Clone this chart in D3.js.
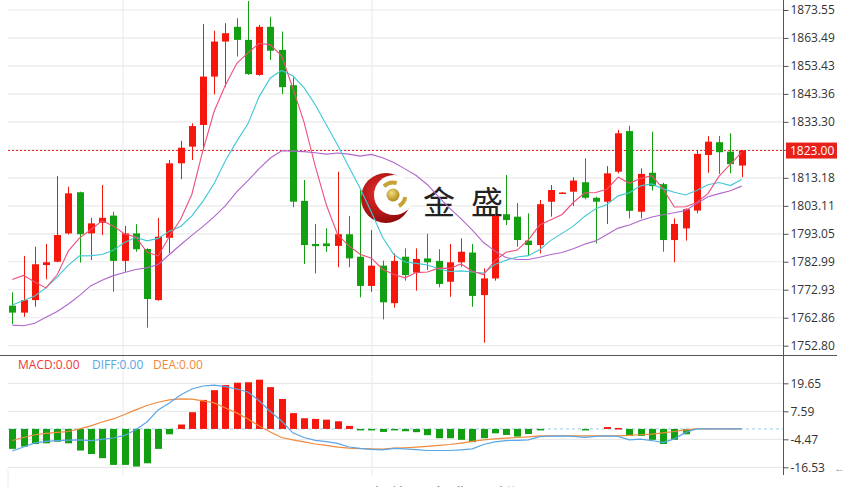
<!DOCTYPE html>
<html><head><meta charset="utf-8">
<script src="https://cdn.jsdelivr.net/npm/d3@7"></script>
<style>body{margin:0;background:#fff;overflow:hidden}svg{display:block}</style>
</head><body>
<script>
// ---------- DATA ----------
const opens  = [1767.2,1764.7,1769.2,1781.8,1783.0,1793.2,1808.0,1793.2,1797.0,1799.6,1783.3,1793.2,1787.6,1769.2,1791.6,1818.4,1824.4,1832.2,1849.6,1862.2,1867.5,1862.8,1850.2,1867.5,1859.2,1846.5,1804.9,1789.4,1789.6,1788.7,1792.9,1784.8,1774.3,1781.6,1768.1,1784.8,1779.1,1784.2,1783.3,1775.8,1782.8,1786.3,1771.0,1777.0,1800.1,1799.2,1790.6,1789.0,1804.6,1807.8,1808.2,1811.6,1806.0,1804.6,1815.4,1830.0,1801.0,1815.0,1810.9,1790.8,1795.0,1801.4,1821.4,1826.0,1822.6,1817.6];
const closes = [1764.7,1769.2,1782.1,1782.8,1792.6,1807.6,1792.9,1796.8,1798.8,1783.3,1793.2,1787.5,1769.6,1792.0,1818.4,1824.0,1831.8,1849.6,1862.2,1865.2,1862.8,1850.5,1867.5,1858.9,1845.8,1804.6,1789.0,1788.6,1788.6,1792.9,1784.2,1774.3,1781.6,1768.4,1783.3,1778.2,1784.0,1782.8,1775.0,1782.8,1786.6,1770.7,1777.0,1799.5,1798.0,1790.8,1789.0,1803.7,1808.8,1807.9,1812.2,1806.0,1804.6,1814.8,1829.2,1801.3,1814.6,1810.2,1790.8,1796.6,1801.9,1821.8,1826.2,1822.4,1818.1,1823.0];
const highs  = [1772.0,1785.1,1788.4,1789.4,1813.8,1810.0,1808.2,1798.8,1810.6,1801.0,1795.9,1796.5,1787.8,1798.8,1819.6,1826.5,1832.8,1868.5,1866.1,1868.8,1870.6,1876.8,1868.2,1871.1,1865.8,1849.3,1812.4,1796.6,1795.0,1815.4,1799.5,1808.8,1794.4,1783.4,1786.0,1787.8,1787.8,1793.0,1787.5,1789.4,1791.4,1789.4,1780.6,1800.4,1814.2,1804.1,1800.4,1805.2,1810.6,1808.0,1813.4,1820.2,1806.4,1817.4,1830.4,1831.9,1816.6,1829.8,1811.4,1798.6,1802.2,1823.2,1828.2,1828.2,1829.2,1823.2];
const lows   = [1760.6,1763.2,1766.8,1776.7,1782.8,1792.8,1782.7,1783.6,1792.6,1772.2,1779.4,1786.6,1759.3,1769.0,1786.0,1812.7,1819.6,1823.2,1843.2,1845.8,1856.8,1850.2,1849.9,1855.6,1843.3,1802.6,1782.2,1778.8,1786.6,1781.0,1781.0,1770.2,1772.2,1762.3,1766.5,1776.2,1772.6,1780.0,1773.8,1770.4,1781.2,1766.8,1753.9,1776.2,1796.2,1788.4,1785.4,1786.0,1799.2,1807.6,1803.1,1805.5,1789.6,1796.6,1814.8,1798.6,1798.6,1808.6,1786.6,1782.8,1790.6,1800.4,1815.0,1814.6,1814.8,1813.4];

const ma5  = [1776.6,1778.1,1775.7,1773.6,1778.3,1786.9,1791.6,1794.5,1797.7,1795.9,1793.0,1791.9,1786.5,1785.1,1792.1,1798.3,1807.2,1823.2,1837.2,1846.6,1854.3,1858.1,1861.6,1861.0,1857.1,1845.5,1833.2,1817.4,1803.3,1792.7,1788.7,1785.7,1784.3,1780.3,1778.4,1777.2,1779.1,1779.3,1780.7,1780.6,1782.2,1779.6,1778.4,1783.3,1786.4,1787.2,1790.9,1796.2,1798.1,1800.0,1804.3,1807.7,1807.9,1809.1,1813.4,1811.2,1812.9,1814.0,1809.2,1802.7,1802.8,1804.3,1807.5,1813.8,1818.1,1822.3];
const ma10 = [1767.4,1769.1,1770.7,1773.6,1777.5,1781.8,1785.1,1785.2,1785.6,1787.1,1789.9,1791.8,1790.5,1791.4,1794.0,1795.7,1799.5,1804.8,1811.2,1819.4,1826.3,1832.6,1842.4,1849.1,1851.8,1849.9,1845.6,1839.5,1832.2,1824.9,1817.1,1809.4,1800.9,1791.8,1785.6,1782.9,1782.4,1781.8,1780.5,1779.5,1779.7,1779.3,1778.9,1782.0,1783.5,1784.7,1785.2,1787.3,1790.7,1793.2,1795.8,1799.3,1802.1,1803.6,1806.7,1807.8,1810.3,1811.0,1809.2,1808.0,1807.0,1808.6,1810.7,1811.5,1810.4,1812.6];
const ma20 = [1760.2,1760.0,1760.9,1763.0,1765.1,1767.8,1770.9,1774.4,1776.3,1778.0,1779.1,1780.2,1780.8,1782.0,1785.6,1789.1,1792.5,1795.7,1799.2,1803.2,1808.1,1812.2,1816.5,1820.3,1822.9,1822.8,1822.6,1822.2,1821.7,1822.1,1821.7,1821.0,1821.6,1820.4,1818.7,1816.4,1814.0,1810.7,1806.3,1802.2,1798.4,1794.4,1789.9,1786.9,1784.5,1783.8,1783.8,1784.6,1785.6,1786.3,1787.7,1789.3,1790.5,1792.8,1795.1,1796.2,1797.8,1799.1,1799.9,1800.6,1801.4,1803.9,1806.4,1807.5,1808.5,1810.2];

const macdHist = [-8.6,-7.6,-6.5,-6.2,-5.5,-6.2,-9.3,-10.8,-12.6,-15.5,-15.5,-16.2,-14.8,-8.6,-2.3,1.9,7.2,12.5,16.7,18.9,19.9,20.1,21.2,18.0,12.9,6.8,4.6,4.3,4.0,3.3,1.3,-0.5,-0.5,-1.3,-0.6,-1.0,-1.4,-2.7,-4.0,-4.0,-4.7,-5.7,-4.0,-1.9,-2.6,-3.3,-2.2,-0.6,0,0,0,-0.6,0,0.8,0.4,-3.0,-3.0,-4.7,-6.5,-4.7,-2.3,0,0,0,0,0];
const diff = [-9.5,-7.8,-6.0,-5.4,-5.0,-4.8,-4.7,-5.0,-4.5,-3.9,-2.8,-0.4,3.0,8.2,11.2,14.6,17.2,18.5,18.9,18.2,17.2,15.9,12.1,7.5,3.4,-1.7,-3.7,-4.9,-5.5,-6.2,-7.8,-8.4,-8.8,-9.0,-8.4,-8.6,-8.9,-9.3,-9.3,-9.3,-9.0,-8.6,-6.7,-5.6,-5.0,-4.9,-4.7,-3.3,-3.1,-3.0,-3.2,-3.6,-3.2,-3.0,-3.2,-4.7,-4.4,-5.0,-5.9,-4.3,-1.5,0,0,0,0,0];
const dea  = [-5.0,-3.7,-2.5,-1.9,-1.5,-1.1,0,1.3,3.0,4.3,6.2,8.2,10.1,11.5,12.5,12.9,12.8,12.1,11.2,9.0,6.9,4.3,1.3,-1.3,-3.7,-4.7,-5.6,-6.5,-7.1,-7.8,-8.3,-8.5,-8.6,-8.7,-8.3,-8.1,-7.8,-7.5,-7.1,-6.7,-6.1,-5.4,-4.7,-4.3,-4.0,-3.7,-3.4,-3.0,-3.0,-3.0,-3.0,-3.0,-3.0,-3.0,-3.0,-2.8,-2.5,-2.2,-1.7,-1.1,-0.4,0,0,0,0,0];

const priceTicks = ["1873.55","1863.49","1853.43","1843.36","1833.30","1823.24","1813.18","1803.11","1793.05","1782.99","1772.93","1762.86","1752.80"];
const macdTicks  = ["19.65","7.59","-4.47","-16.53"];
const lastPrice = 1823.00;
const legendItems = [["MACD:0.00","#ee3b3b"],["DIFF:0.00","#5aa6e6"],["DEA:0.00","#f08a3c"]];

// ---------- LAYOUT ----------
const W = 845, H = 487;
const plotL = 8, axisX = 783;
const RED = "#f5170b", GREEN = "#12a012";
const FONT = "'Open Sans','Noto Sans',sans-serif";

const svg = d3.select("body").append("svg").attr("width", W).attr("height", H);

const x = d3.scaleLinear().domain([0, closes.length - 1]).range([12.3, 741.6]);
const y = d3.scaleLinear().domain([1752.80, 1873.55]).range([345.7, 10]);
const my = d3.scaleLinear().domain([-16.53, 19.65]).range([467.3, 383.3]);

// grid
const grid = svg.append("g");
grid.selectAll(".hg").data(priceTicks).join("line")
  .attr("x1", plotL).attr("x2", axisX)
  .attr("y1", d => y(+d)).attr("y2", d => y(+d))
  .attr("stroke", "#e9e9e9").attr("stroke-width", 1.2);
grid.selectAll(".mg").data(macdTicks).join("line")
  .attr("x1", plotL).attr("x2", axisX)
  .attr("y1", d => my(+d)).attr("y2", d => my(+d))
  .attr("stroke", "#e9e9e9").attr("stroke-width", 1.2);
[123, 372].forEach(vx => grid.append("line").attr("x1", vx).attr("x2", vx)
  .attr("y1", 0).attr("y2", 475).attr("stroke", "#e3eaee").attr("stroke-width", 1));
grid.append("line").attr("x1", plotL).attr("x2", plotL).attr("y1", 470).attr("y2", 487)
  .attr("stroke", "#e3eaee");

// watermark logo
const logo = svg.append("g");
const defs = svg.append("defs");
const rg = defs.append("radialGradient").attr("id", "rg").attr("cx", "40%").attr("cy", "40%").attr("r", "65%");
rg.append("stop").attr("offset", "0%").attr("stop-color", "#f03030");
rg.append("stop").attr("offset", "100%").attr("stop-color", "#8e0808");
const gg = defs.append("radialGradient").attr("id", "gg").attr("cx", "40%").attr("cy", "35%").attr("r", "70%");
gg.append("stop").attr("offset", "0%").attr("stop-color", "#f2dc7a");
gg.append("stop").attr("offset", "100%").attr("stop-color", "#a88418");
logo.append("circle").attr("cx", 386).attr("cy", 198).attr("r", 25).attr("fill", "url(#rg)");
logo.append("circle").attr("cx", 394).attr("cy", 195).attr("r", 20).attr("fill", "#fff");
const arc = d3.arc().innerRadius(10.5).outerRadius(14.5);
logo.append("path").attr("transform", "translate(393,195)")
  .attr("d", arc({startAngle: -0.8, endAngle: 0.3})).attr("fill", "#c9a235");
logo.append("path").attr("transform", "translate(393,195)")
  .attr("d", arc({startAngle: 1.75, endAngle: 2.65})).attr("fill", "#c9a235");
logo.append("circle").attr("cx", 393).attr("cy", 195).attr("r", 6.5).attr("fill", "url(#gg)");
logo.append("text").attr("x", 423).attr("y", 214).text("金")
  .attr("font-family", "'Noto Sans CJK SC'").attr("font-size", 32).attr("fill", "#222");
logo.append("text").attr("x", 471).attr("y", 214).text("盛")
  .attr("font-family", "'Noto Sans CJK SC'").attr("font-size", 32).attr("fill", "#222");

// last price dashed line
svg.append("line").attr("x1", plotL).attr("x2", axisX)
  .attr("y1", y(lastPrice)).attr("y2", y(lastPrice))
  .attr("stroke", "#e8242a").attr("stroke-width", 1).attr("stroke-dasharray", "2,2");

// candles
const idx = d3.range(closes.length);
const cg = svg.append("g");
const col = i => closes[i] >= opens[i] ? RED : GREEN;
cg.selectAll(".wick").data(idx).join("line")
  .attr("x1", i => Math.round(x(i)) + 0.5).attr("x2", i => Math.round(x(i)) + 0.5)
  .attr("y1", i => y(highs[i])).attr("y2", i => y(lows[i]))
  .attr("stroke", col).attr("stroke-width", 1);
cg.selectAll(".body").data(idx).join("rect")
  .attr("x", i => Math.round(x(i)) - 3).attr("width", 7)
  .attr("y", i => y(Math.max(opens[i], closes[i])))
  .attr("height", i => Math.max(1.5, Math.abs(y(opens[i]) - y(closes[i]))))
  .attr("fill", col);

// MA lines
const line = d3.line().x((d, i) => x(i)).y(d => y(d));
[[ma20, "#b066cc"], [ma10, "#3fc7d6"], [ma5, "#ee4f7a"]].forEach(([arr, c]) =>
  svg.append("path").attr("d", line(arr)).attr("fill", "none").attr("stroke", c).attr("stroke-width", 1.1));

// MACD zero line
svg.append("line").attr("x1", plotL).attr("x2", axisX).attr("y1", my(0)).attr("y2", my(0))
  .attr("stroke", "#9fcbe6").attr("stroke-width", 1).attr("stroke-dasharray", "3,3");

// MACD bars
svg.append("g").selectAll("rect").data(idx.filter(i => macdHist[i] !== 0)).join("rect")
  .attr("x", i => Math.round(x(i)) - 3).attr("width", 7)
  .attr("y", i => Math.min(my(0), my(macdHist[i])))
  .attr("height", i => Math.max(1.5, Math.abs(my(macdHist[i]) - my(0))))
  .attr("fill", i => macdHist[i] > 0 ? RED : GREEN);

const mline = d3.line().x((d, i) => x(i)).y(d => my(d));
svg.append("path").attr("d", mline(dea)).attr("fill", "none").attr("stroke", "#f08a3c").attr("stroke-width", 1.2);
svg.append("path").attr("d", mline(diff)).attr("fill", "none").attr("stroke", "#5aa6e6").attr("stroke-width", 1.2);

// legend
let lx = [18, 92, 153];
legendItems.forEach(([t, c], k) => svg.append("text").attr("x", lx[k]).attr("y", 369)
  .text(t).attr("fill", c).attr("font-family", FONT).attr("font-size", 12));

// separators and axis line
svg.append("line").attr("x1", 0).attr("x2", 837).attr("y1", 355.5).attr("y2", 355.5)
  .attr("stroke", "#555").attr("stroke-width", 1);
svg.append("line").attr("x1", axisX + 0.5).attr("x2", axisX + 0.5).attr("y1", 0).attr("y2", 475)
  .attr("stroke", "#555").attr("stroke-width", 1);

// price axis
const pa = svg.append("g").attr("transform", `translate(${axisX + 0.5},0)`)
  .call(d3.axisRight(y).tickValues(priceTicks.map(Number)).tickSize(5).tickPadding(2)
    .tickFormat((d, i) => priceTicks[i]));
pa.select(".domain").remove();
pa.selectAll("line").attr("stroke", "#555");
pa.selectAll("text").attr("font-family", FONT).attr("font-size", 12).attr("fill", "#333")
  .style("display", d => Math.abs(y(d) - y(lastPrice)) < 8 ? "none" : null);

// macd axis
const ma = svg.append("g").attr("transform", `translate(${axisX + 0.5},0)`)
  .call(d3.axisRight(my).tickValues(macdTicks.map(Number)).tickSize(5).tickPadding(2)
    .tickFormat((d, i) => macdTicks[i]));
ma.select(".domain").remove();
ma.selectAll("line").attr("stroke", "#555");
ma.selectAll("text").attr("font-family", FONT).attr("font-size", 12).attr("fill", "#333");

// last price tag
svg.append("rect").attr("x", 786).attr("y", y(lastPrice) - 8).attr("width", 51).attr("height", 16).attr("fill", "#e8201a");
svg.append("text").attr("x", 790).attr("y", y(lastPrice) + 4.5).text(lastPrice.toFixed(2))
  .attr("fill", "#fff").attr("font-family", FONT).attr("font-size", 12);

// arrow and cut-off caption (reference shows only its top edge)
svg.append("text").attr("x", 834).attr("y", 472).text("←").attr("fill", "#999")
  .attr("font-family", FONT).attr("font-size", 11);
svg.append("text").attr("x", 368).attr("y", 504).text("为什么金盛 一 锚图")
  .attr("font-family", "'Noto Sans CJK SC'").attr("font-size", 20).attr("fill", "#222");
</script>
</body></html>
